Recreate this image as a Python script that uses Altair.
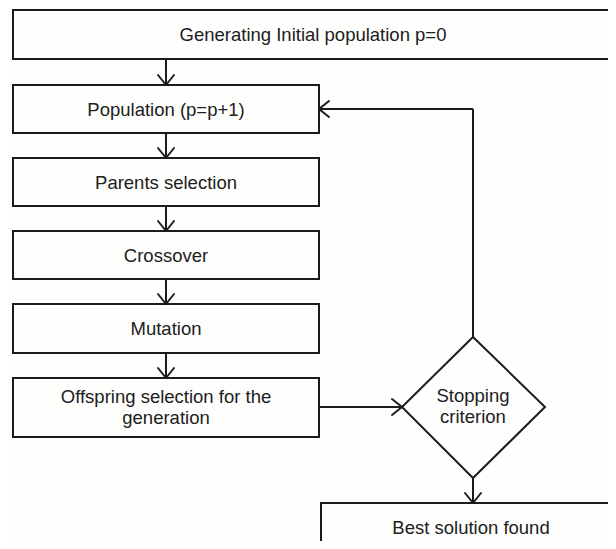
import altair as alt
import pandas as pd

# ---- flowchart content (pixel-space coordinates of the reference) ----
box_labels = [
    "Generating Initial population p=0",
    "Population (p=p+1)",
    "Parents selection",
    "Crossover",
    "Mutation",
    "Offspring selection for the\ngeneration",
    "Best solution found",
]
box_left = [13, 13, 13, 13, 13, 13, 321]
box_right = [640, 319, 319, 319, 319, 319, 640]
box_top = [10, 85, 158, 231, 304, 378, 503]
box_bottom = [59, 133, 206, 279, 353, 437, 600]
label_x = [313, 166, 166, 166, 166, 166, 471]
label_y = [35, 110, 183, 256, 329, 397, 528]

diamond_label = "Stopping\ncriterion"
diamond_x = [473, 545, 473, 402, 473]
diamond_y = [337, 407, 478, 407, 337]
diamond_cx = 473
diamond_cy = 396

seg_x1 = [166, 166, 166, 166, 166, 319, 473, 473, 473]
seg_y1 = [59, 133, 206, 279, 353, 407, 337, 109, 478]
seg_x2 = [166, 166, 166, 166, 166, 402, 473, 319, 473]
seg_y2 = [85, 158, 231, 304, 378, 407, 109, 109, 503]

arrow_tip_x = [166, 166, 166, 166, 166, 402, 319, 473]
arrow_tip_y = [85, 158, 231, 304, 378, 407, 109, 503]
arrow_dir = ["down", "down", "down", "down", "down", "right", "left", "down"]

INK = "#1c1c1c"
TXT = "#202020"
FONT = "Liberation Sans"
FS = 18.5

boxes = pd.DataFrame({
    "label": box_labels, "x1": box_left, "x2": box_right,
    "y1": box_top, "y2": box_bottom, "tx": label_x, "ty": label_y,
})
diamond = pd.DataFrame({"x": diamond_x, "y": diamond_y, "o": list(range(len(diamond_x)))})
segs = pd.DataFrame({"x1": seg_x1, "y1": seg_y1, "x2": seg_x2, "y2": seg_y2})

# arrowhead wings from tips
back, half = 10, 8
wing_rows = []
for tx, ty, d in zip(arrow_tip_x, arrow_tip_y, arrow_dir):
    if d == "down":
        wings = [(tx - half, ty - back), (tx + half, ty - back)]
    elif d == "up":
        wings = [(tx - half, ty + back), (tx + half, ty + back)]
    elif d == "right":
        wings = [(tx - back, ty - half), (tx - back, ty + half)]
    else:
        wings = [(tx + back, ty - half), (tx + back, ty + half)]
    for wx, wy in wings:
        wing_rows.append({"x1": wx, "y1": wy, "x2": tx, "y2": ty})
wings_df = pd.DataFrame(wing_rows)

W, H = 600, 533
xs = alt.Scale(domain=[8, 8 + W])
ys = alt.Scale(domain=[8, 8 + H], reverse=True)

rects = alt.Chart(boxes).mark_rect(
    fill="#fefefd", stroke=INK, strokeWidth=2, clip=True
).encode(
    x=alt.X("x1:Q", scale=xs, axis=None), x2="x2:Q",
    y=alt.Y("y1:Q", scale=ys, axis=None), y2="y2:Q",
)

texts = alt.Chart(boxes).mark_text(
    font=FONT, fontSize=FS, color=TXT, lineBreak="\n", lineHeight=21,
    align="center", baseline="middle"
).encode(
    x=alt.X("tx:Q", scale=xs, axis=None),
    y=alt.Y("ty:Q", scale=ys, axis=None),
    text="label:N",
)

dia = alt.Chart(diamond).mark_line(
    color=INK, strokeWidth=2, strokeJoin="miter"
).encode(
    x=alt.X("x:Q", scale=xs, axis=None),
    y=alt.Y("y:Q", scale=ys, axis=None),
    order="o:Q",
)

dia_text = alt.Chart(pd.DataFrame({"t": [diamond_label], "x": [diamond_cx], "y": [diamond_cy]})).mark_text(
    font=FONT, fontSize=FS, color=TXT, lineBreak="\n", lineHeight=21,
    align="center", baseline="middle"
).encode(
    x=alt.X("x:Q", scale=xs, axis=None),
    y=alt.Y("y:Q", scale=ys, axis=None),
    text="t:N",
)

lines = alt.Chart(segs).mark_rule(color=INK, strokeWidth=2).encode(
    x=alt.X("x1:Q", scale=xs, axis=None), x2="x2:Q",
    y=alt.Y("y1:Q", scale=ys, axis=None), y2="y2:Q",
)

heads = alt.Chart(wings_df).mark_rule(color=INK, strokeWidth=2, strokeCap="round").encode(
    x=alt.X("x1:Q", scale=xs, axis=None), x2="x2:Q",
    y=alt.Y("y1:Q", scale=ys, axis=None), y2="y2:Q",
)

chart = alt.layer(rects, lines, heads, dia, texts, dia_text).properties(
    width=W, height=H, padding=0, autosize=alt.AutoSizeParams(type="none"),
    background="#fefefd",
).configure_view(stroke=None)

chart.save("out.html", embed_options={"renderer": "svg", "actions": False})
